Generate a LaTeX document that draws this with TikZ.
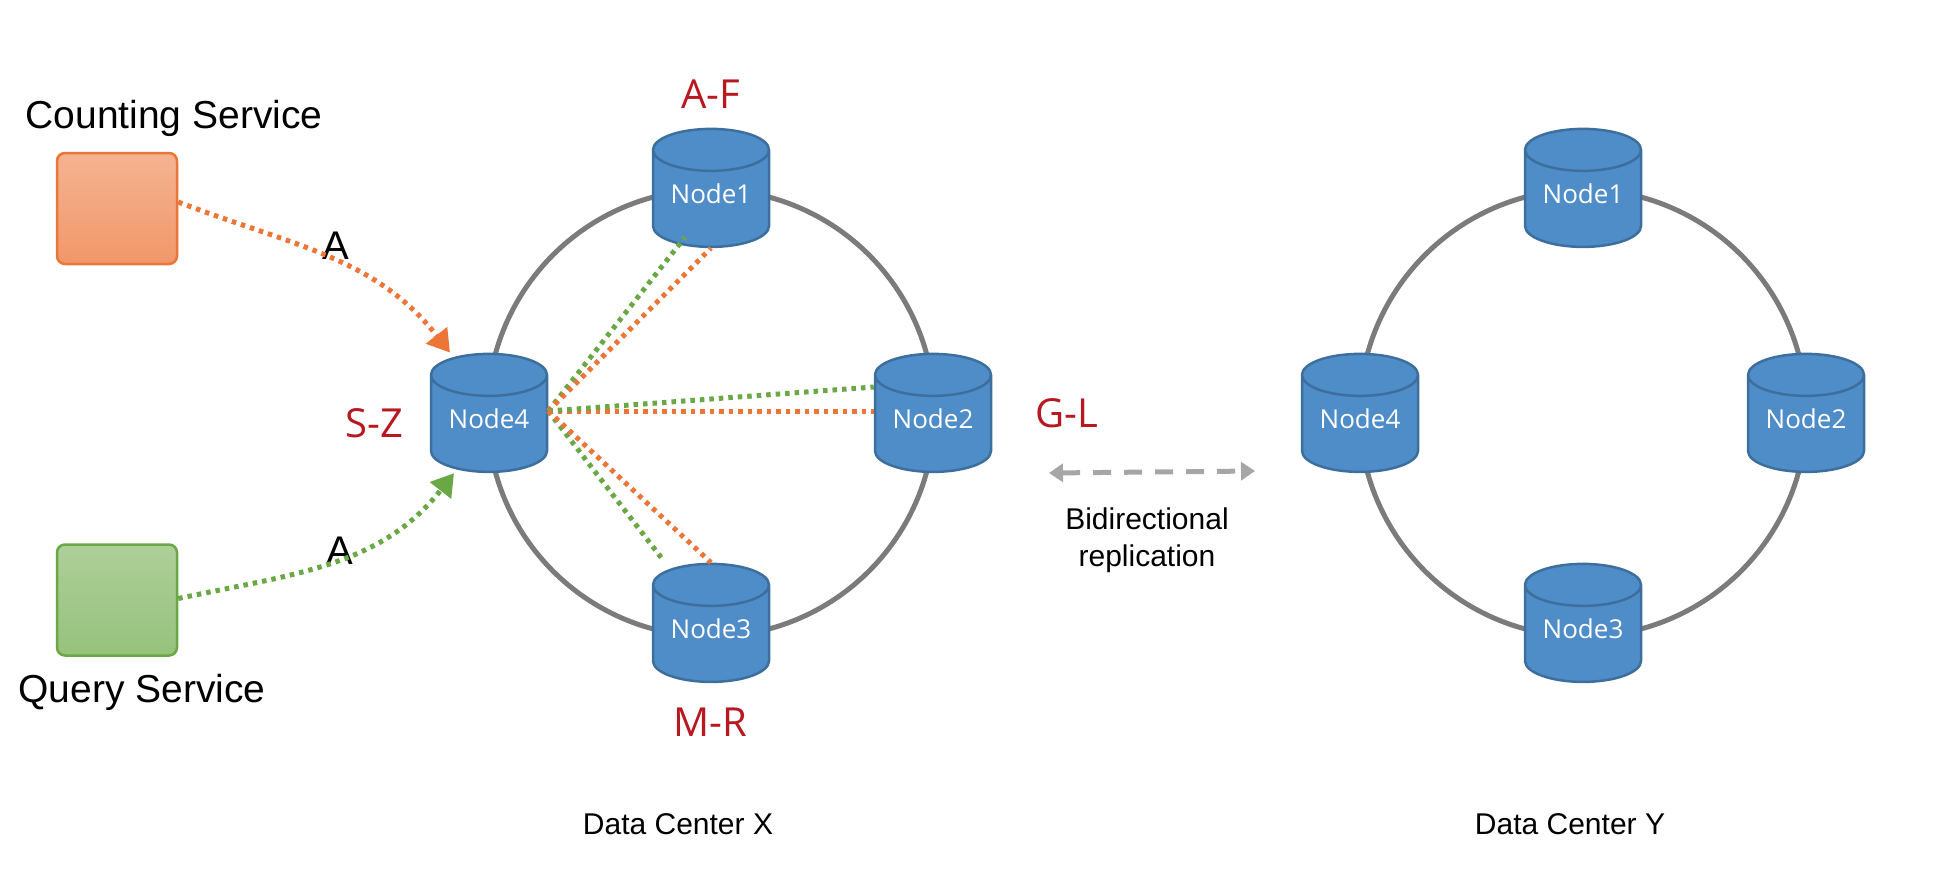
\documentclass[tikz,border=0pt]{standalone}
\usepackage{fontspec}
\setmainfont{Liberation Sans}
\newfontfamily\labelfont{Open Sans}
\usetikzlibrary{calc, positioning, arrows.meta, shapes.geometric}
\definecolor{dbblue}{HTML}{4F8DC8}
\definecolor{dbedge}{HTML}{3D6F9E}
\definecolor{ringgray}{HTML}{7B7B7B}
\definecolor{keyred}{HTML}{B81820}
\definecolor{countorange}{HTML}{EC7538}
\definecolor{querygreen}{HTML}{6AA845}
\definecolor{replgray}{HTML}{A6A6A6}
\tikzset{
	dbnode/.style={cylinder, shape border rotate=90, aspect=0.52, draw=dbedge, line width=2.5, fill=dbblue, minimum width=116, minimum height=118, inner sep=0, text=white, text depth=10, font=\labelfont\fontsize{26}{30}\selectfont},
	ring/.style={circle, draw=ringgray, line width=5, minimum size=447, inner sep=0},
	keylabel/.style={text=keyred, font=\labelfont\fontsize{40}{46}\selectfont},
	service/.style={font=\fontsize{39}{46}\selectfont},
	caption/.style={font=\fontsize{30}{37}\selectfont, align=center},
	servicebox/.style={rounded corners=8, line width=2.5, minimum width=120, minimum height=111, inner sep=0},
	countline/.style={countorange, line width=5, dash pattern=on 4.5 off 5},
	queryline/.style={querygreen, line width=5, dash pattern=on 4.5 off 5},
	tip/.style={-{Triangle[length=22, width=26]}}
}
\begin{document}
\begin{tikzpicture}
		[x=1pt, y=1pt]
		\useasboundingbox (0,0) rectangle (1950,-876);
	
		% rings %
		\node[ring] (ringx) at (711,-413) {};
		\node[ring] (ringy) at (1583,-413) {};
	
		% nodes %
		\node[dbnode] (xone) at (711,-199) {Node1};
		\node[dbnode] (xtwo) at (933,-424) {Node2};
		\node[dbnode] (xthree) at (711,-634) {Node3};
		\node[dbnode] (xfour) at (489,-424) {Node4};
		\node[dbnode] (yone) at (1583,-199) {Node1};
		\node[dbnode] (ytwo) at (1806,-424) {Node2};
		\node[dbnode] (ythree) at (1583,-634) {Node3};
		\node[dbnode] (yfour) at (1360,-424) {Node4};
	
		\node[servicebox, draw=countorange, top color=countorange!55!white, bottom color=countorange!75!white] (counting) at (117,-208.5) {};
		\node[servicebox, draw=querygreen, top color=querygreen!55!white, bottom color=querygreen!70!white] (query) at (117,-600) {};
	
		% labels %
		\node[service] (countinglabel) at (174,-118.5) {Counting Service};
		\node[service] (querylabel) at (142,-692.5) {Query Service};
		\node[font=\fontsize{40}{46}\selectfont] (counta) at (336,-246) {A};
		\node[font=\fontsize{40}{46}\selectfont] (querya) at (340,-551) {A};
		\node[keylabel] (keyone) at (711,-94) {A-F};
		\node[keylabel] (keytwo) at (1067,-413) {G-L};
		\node[keylabel] (keythree) at (710,-722) {M-R};
		\node[keylabel] (keyfour) at (374,-423) {S-Z};
		\node[caption] (repllabel) at (1147,-540.5) {Bidirectional\\replication};
		\node[caption] (dcx) at (678,-824) {Data Center X};
		\node[caption] (dcy) at (1570,-824) {Data Center Y};
	
		\coordinate (fan) at ([yshift=13]xfour.east);
		\coordinate (replleft) at (1049,-473);
		\coordinate (replright) at (1255,-471);
	
		% edges %
		\draw[countline, tip] ([yshift=6.5]counting.east) to[out=-21, in=128] ([xshift=-39]xfour.north);
		\draw[queryline, tip] ([yshift=1.5]query.east) to[out=12, in=232] ([xshift=-35]xfour.south);
		\draw[queryline] (fan) -- ([xshift=-26, yshift=11]xone.south);
		\draw[countline] (fan) -- (xone.south);
		\draw[countline] (fan) -- ([yshift=13]xtwo.west);
		\draw[queryline] (fan) -- ([yshift=37]xtwo.west);
		\draw[queryline] (fan) -- ([xshift=-49, yshift=4]xthree.north);
		\draw[countline] (fan) -- (xthree.north);
		\draw[replgray, line width=5, dash pattern=on 18 off 13, {Triangle[length=14, width=18]}-{Triangle[length=14, width=18]}] (replleft) -- (replright);
	
		\end{tikzpicture}
\end{document}
